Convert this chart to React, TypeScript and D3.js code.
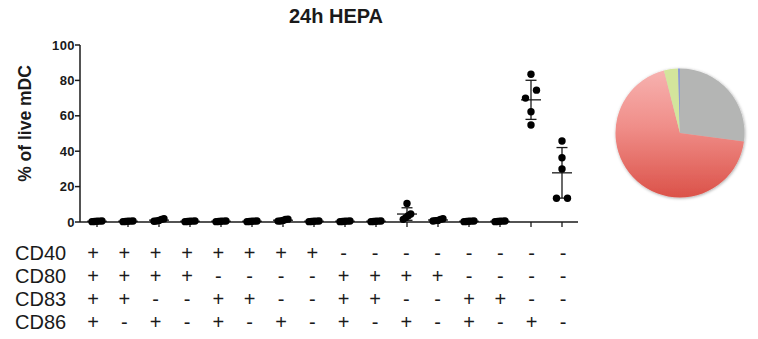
import React from "react";
import * as d3 from "d3";

// Surface-marker combinations (CD40, CD80, CD83, CD86) for each of the 16 subsets
const markers = ["CD40", "CD80", "CD83", "CD86"];
const CD40 = ["+", "+", "+", "+", "+", "+", "+", "+", "-", "-", "-", "-", "-", "-", "-", "-"];
const CD80 = ["+", "+", "+", "+", "-", "-", "-", "-", "+", "+", "+", "+", "-", "-", "-", "-"];
const CD83 = ["+", "+", "-", "-", "+", "+", "-", "-", "+", "+", "-", "-", "+", "+", "-", "-"];
const CD86 = ["+", "-", "+", "-", "+", "-", "+", "-", "+", "-", "+", "-", "+", "-", "+", "-"];

// % of live mDC per subset, five donors each
const subsetValues: number[][] = [
  [0.2, 0.4, 0.5, 0.3, 0.6],
  [0.3, 0.2, 0.5, 0.4, 0.6],
  [0.6, 1.5, 1.8, 0.4, 0.9],
  [0.3, 0.5, 0.2, 0.4, 0.6],
  [0.3, 0.4, 0.2, 0.5, 0.6],
  [0.2, 0.4, 0.3, 0.5, 0.6],
  [1.6, 1.4, 0.6, 0.5, 0.9],
  [0.3, 0.4, 0.2, 0.5, 0.6],
  [0.3, 0.5, 0.2, 0.4, 0.6],
  [0.4, 0.3, 0.5, 0.2, 0.6],
  [10.5, 4.5, 3.5, 2.5, 1.5],
  [1.8, 1.5, 0.8, 0.6, 0.9],
  [0.3, 0.4, 0.2, 0.5, 0.6],
  [0.2, 0.4, 0.3, 0.5, 0.6],
  [83.5, 74.5, 70, 62.3, 54.8],
  [45.8, 36.3, 30, 13.4, 13.4],
];

const yTicks = [0, 20, 40, 60, 80, 100];

// Pie composition (clockwise from 12 o'clock)
const pieNames = ["CD86- others", "CD86+ only", "CD80+CD86+", "rest"];
const pieShares = [27.1, 68.9, 3.5, 0.5];
const pieFills = ["#b4b5b4", "url(#redGrad)", "#d3e59c", "#8d9bd2"];

const FONT = "'Liberation Sans', Arial, Helvetica, sans-serif";
const INK = "#1a1a1a";

// Spread overlapping dots sideways, scatter-plot style
function dodge(vals: number[], y: (v: number) => number): number[] {
  const idx = vals.map((_, i) => i).sort((a, b) => vals[a] - vals[b]);
  const offsets = new Array(vals.length).fill(0);
  const groups: number[][] = [];
  idx.forEach((i, k) => {
    if (k > 0 && Math.abs(y(vals[i]) - y(vals[idx[k - 1]])) < 9) {
      groups[groups.length - 1].push(i);
    } else groups.push([i]);
  });
  groups.forEach((g) => {
    const n = g.length;
    const w = n <= 2 ? 11 : 2.5;
    g.forEach((i, k) => (offsets[i] = (k - (n - 1) / 2) * w));
  });
  return offsets;
}

export default function App() {
  const width = 758;
  const height = 339;

  const y = d3.scaleLinear().domain([0, 100]).range([222, 45]);
  const cols = d3.range(subsetValues.length);
  const x = d3.scalePoint<number>().domain(cols).range([97, 562]);
  const xTable = d3.scalePoint<number>().domain(cols).range([93, 563]);
  const axisLeft = 80;
  const axisRight = 578;
  const rows = [CD40, CD80, CD83, CD86];
  const rowBaseline = d3.scaleLinear().domain([0, 3]).range([260, 329]);

  const pieCx = 680;
  const pieCy = 133;
  const pieR = 64.5;
  const arcs = d3.pie<number>().sort(null).value((d) => d)(pieShares);
  const arcGen = d3.arc<d3.PieArcDatum<number>>().innerRadius(0).outerRadius(pieR);

  return (
    <svg
      width={width}
      height={height}
      style={{ position: "absolute", left: 0, top: 0, background: "#fff" }}
      fontFamily={FONT}
    >
      <defs>
        <linearGradient id="redGrad" gradientUnits="userSpaceOnUse" x1={0} y1={-pieR} x2={0} y2={pieR}>
          <stop offset="0%" stopColor="#f7b3b1" />
          <stop offset="45%" stopColor="#f08e89" />
          <stop offset="100%" stopColor="#db5249" />
        </linearGradient>
        <filter id="pieShadow" x="-20%" y="-20%" width="140%" height="140%">
          <feDropShadow dx="0.6" dy="0.8" stdDeviation="1.4" floodColor="#000" floodOpacity="0.35" />
        </filter>
      </defs>

      <text x={336} y={23} textAnchor="middle" fontSize={20} fontWeight="bold" fill={INK}>
        24h HEPA
      </text>

      {/* y axis */}
      <line x1={axisLeft} x2={axisLeft} y1={y(100)} y2={y(0)} stroke={INK} strokeWidth={1.5} />
      {yTicks.map((t) => (
        <g key={t}>
          <line x1={axisLeft - 5} x2={axisLeft} y1={y(t)} y2={y(t)} stroke={INK} strokeWidth={1.5} />
          <text
            x={axisLeft - 5}
            y={y(t)}
            dy="0.36em"
            textAnchor="end"
            fontSize={13}
            fontWeight="bold"
            letterSpacing={0.4}
            fill={INK}
          >
            {t}
          </text>
        </g>
      ))}
      <text
        transform="translate(31,123.5) rotate(-90)"
        textAnchor="middle"
        fontSize={17.5}
        fontWeight="bold"
        fill={INK}
      >
        % of live mDC
      </text>

      {/* x axis */}
      <line x1={axisLeft} x2={axisRight} y1={y(0)} y2={y(0)} stroke={INK} strokeWidth={1.5} />
      {cols.map((c) => (
        <line key={c} x1={x(c)} x2={x(c)} y1={y(0)} y2={y(0) + 5} stroke={INK} strokeWidth={1.3} />
      ))}

      {/* mean ± SD and donor points */}
      {subsetValues.map((vals, c) => {
        const cx = x(c)!;
        const mean = d3.mean(vals)!;
        const sd = d3.deviation(vals)!;
        const offs = dodge(vals, y);
        return (
          <g key={c}>
            <line x1={cx} x2={cx} y1={y(mean + sd)} y2={y(Math.max(0, mean - sd))} stroke={INK} strokeWidth={1.3} />
            <line x1={cx - 5.5} x2={cx + 5.5} y1={y(mean + sd)} y2={y(mean + sd)} stroke={INK} strokeWidth={1.3} />
            <line x1={cx - 5.5} x2={cx + 5.5} y1={y(mean - sd)} y2={y(mean - sd)} stroke={INK} strokeWidth={1.3} />
            <line x1={cx - 10} x2={cx + 10} y1={y(mean)} y2={y(mean)} stroke={INK} strokeWidth={1.3} />
            {vals.map((v, i) => (
              <circle key={i} cx={cx + offs[i]} cy={y(v)} r={3.7} fill="#000" />
            ))}
          </g>
        );
      })}

      {/* marker table */}
      {rows.map((row, r) => (
        <g key={markers[r]}>
          <text x={15} y={rowBaseline(r)} fontSize={20} fill={INK}>
            {markers[r]}
          </text>
          {row.map((s, c) => (
            <text key={c} x={xTable(c)} y={rowBaseline(r)} fontSize={20} textAnchor="middle" fill={INK}>
              {s}
            </text>
          ))}
        </g>
      ))}

      {/* composition pie */}
      <g transform={`translate(${pieCx},${pieCy})`} filter="url(#pieShadow)">
        {arcs.map((a, i) => (
          <path key={pieNames[i]} d={arcGen(a)!} fill={pieFills[i]} />
        ))}
      </g>
    </svg>
  );
}
